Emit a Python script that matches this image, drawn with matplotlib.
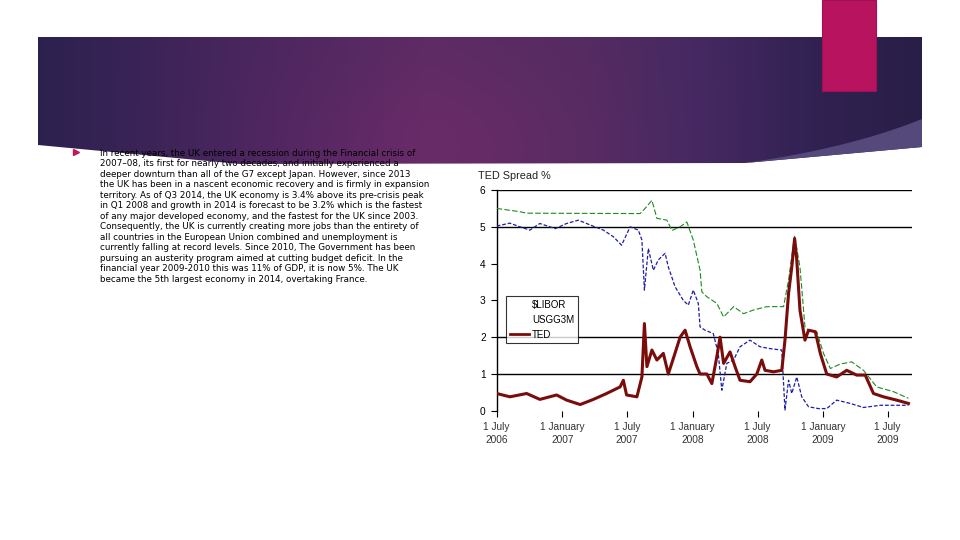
import numpy as np
import pandas as pd
import matplotlib
matplotlib.use("Agg")
import matplotlib.pyplot as plt
from matplotlib.patches import Polygon, Rectangle
from matplotlib.lines import Line2D

# TED spread data (percent)
ted_dates = ["2006-07-01", "2006-08-07", "2006-09-23", "2006-10-30", "2006-12-16",
             "2007-01-13", "2007-02-20", "2007-03-29", "2007-05-05", "2007-06-12",
             "2007-06-21", "2007-06-30", "2007-07-29", "2007-08-12", "2007-08-19",
             "2007-08-26", "2007-09-09", "2007-09-23", "2007-10-11", "2007-10-25",
             "2007-11-08", "2007-11-27", "2007-12-11", "2007-12-25", "2008-01-13",
             "2008-01-22", "2008-02-10", "2008-02-24", "2008-03-09", "2008-03-18",
             "2008-03-28", "2008-04-15", "2008-04-29", "2008-05-13", "2008-06-10",
             "2008-06-29", "2008-07-13", "2008-07-22", "2008-08-15", "2008-09-07",
             "2008-09-16", "2008-09-26", "2008-10-05", "2008-10-13", "2008-10-19",
             "2008-10-28", "2008-11-11", "2008-11-21", "2008-12-10", "2008-12-24",
             "2009-01-11", "2009-02-08", "2009-03-08", "2009-04-05", "2009-04-29",
             "2009-05-22", "2009-06-19", "2009-07-26", "2009-08-28"]
ted_values = [0.47, 0.38, 0.47, 0.31, 0.43,
              0.29, 0.17, 0.31, 0.47, 0.65,
              0.83, 0.43, 0.38, 0.92, 2.37,
              1.20, 1.65, 1.38, 1.56, 1.00,
              1.42, 2.00, 2.19, 1.74, 1.20,
              1.00, 1.00, 0.74, 1.47, 2.00,
              1.29, 1.60, 1.20, 0.83, 0.79,
              1.00, 1.38, 1.10, 1.06, 1.10,
              1.92, 3.19, 3.90, 4.68, 4.10,
              2.73, 1.92, 2.19, 2.15, 1.56,
              1.00, 0.92, 1.10, 0.97, 0.97,
              0.47, 0.38, 0.29, 0.20]

libor_dates = ["2006-07-01", "2006-09-04", "2006-09-23", "2007-08-07", "2007-08-21",
               "2007-09-09", "2007-09-23", "2007-10-21", "2007-11-04", "2007-11-27",
               "2007-12-16", "2008-01-03", "2008-01-22", "2008-01-27", "2008-02-10",
               "2008-03-09", "2008-03-28", "2008-04-25", "2008-05-23", "2008-06-20",
               "2008-07-27", "2008-09-12", "2008-09-26", "2008-10-13", "2008-10-28",
               "2008-11-11", "2008-11-21", "2008-12-14", "2009-01-02", "2009-01-21",
               "2009-02-18", "2009-03-22", "2009-04-24", "2009-05-31", "2009-07-17",
               "2009-08-28"]
libor_values = [5.50, 5.41, 5.37, 5.36, 5.50,
                5.72, 5.23, 5.18, 4.90, 5.00,
                5.13, 4.64, 3.82, 3.23, 3.10,
                2.92, 2.55, 2.83, 2.64, 2.74,
                2.83, 2.83, 3.55, 4.77, 3.90,
                2.28, 2.19, 2.15, 1.56, 1.15,
                1.27, 1.33, 1.10, 0.65, 0.52,
                0.34]

usgg_dates = ["2006-07-01", "2006-08-07", "2006-09-04", "2006-10-02", "2006-10-30",
              "2006-12-12", "2007-01-13", "2007-02-15", "2007-03-20", "2007-04-26",
              "2007-05-24", "2007-06-16", "2007-07-10", "2007-08-02", "2007-08-12",
              "2007-08-19", "2007-08-30", "2007-09-13", "2007-09-27", "2007-10-16",
              "2007-10-25", "2007-11-13", "2007-12-06", "2007-12-20", "2008-01-03",
              "2008-01-17", "2008-01-22", "2008-02-05", "2008-02-28", "2008-03-13",
              "2008-03-23", "2008-04-06", "2008-04-25", "2008-05-13", "2008-06-10",
              "2008-07-08", "2008-08-05", "2008-09-07", "2008-09-16", "2008-09-26",
              "2008-10-05", "2008-10-19", "2008-11-02", "2008-11-21", "2008-12-19",
              "2009-01-11", "2009-02-08", "2009-03-18", "2009-04-24", "2009-06-10",
              "2009-08-28"]
usgg_values = [5.02, 5.10, 5.00, 4.91, 5.09,
               4.95, 5.09, 5.18, 5.05, 4.91,
               4.73, 4.50, 5.00, 4.91, 4.64,
               3.28, 4.41, 3.82, 4.10, 4.28,
               3.91, 3.37, 3.00, 2.87, 3.28,
               2.92, 2.28, 2.19, 2.10, 1.56,
               0.56, 1.29, 1.38, 1.74, 1.92,
               1.74, 1.69, 1.65, 0.02, 0.83,
               0.47, 0.92, 0.38, 0.11, 0.06,
               0.06, 0.29, 0.20, 0.09, 0.15,
               0.15]

tick_dates = ["2006-07-01", "2007-01-01", "2007-07-01", "2008-01-01",
              "2008-07-01", "2009-01-01", "2009-07-01"]
tick_labels = ["1 July\n2006", "1 January\n2007", "1 July\n2007", "1 January\n2008",
               "1 July\n2008", "1 January\n2009", "1 July\n2009"]
y_ticks = [0, 1, 2, 3, 4, 5, 6]
grid_levels = [1, 2, 5, 6]

body_lines = [
    "In recent years, the UK entered a recession during the Financial crisis of",
    "2007\u201308, its first for nearly two decades, and initially experienced a",
    "deeper downturn than all of the G7 except Japan. However, since 2013",
    "the UK has been in a nascent economic recovery and is firmly in expansion",
    "territory. As of Q3 2014, the UK economy is 3.4% above its pre-crisis peak",
    "in Q1 2008 and growth in 2014 is forecast to be 3.2% which is the fastest",
    "of any major developed economy, and the fastest for the UK since 2003.",
    "Consequently, the UK is currently creating more jobs than the entirety of",
    "all countries in the European Union combined and unemployment is",
    "currently falling at record levels. Since 2010, The Government has been",
    "pursuing an austerity program aimed at cutting budget deficit. In the",
    "financial year 2009-2010 this was 11% of GDP, it is now 5%. The UK",
    "became the 5th largest economy in 2014, overtaking France.",
]

fig = plt.figure(figsize=(9.6, 5.4), dpi=100)

# slide background in pixel coordinates
bg = fig.add_axes([0, 0, 1, 1])
bg.set_xlim(0, 960)
bg.set_ylim(540, 0)
bg.axis("off")

# purple banner with a horizontal + radial gradient
bx0, bx1, by0, by1 = 38, 922, 37, 165
xs = np.linspace(bx0, bx1, 400)
ys = np.linspace(by0, by1, 80)
X, Y = np.meshgrid(xs, ys)
stops = [38, 250, 430, 580, 700, 820, 922]
reds = [0.17, 0.29, 0.36, 0.33, 0.27, 0.19, 0.16]
greens = [0.13, 0.15, 0.17, 0.17, 0.16, 0.13, 0.12]
blues = [0.31, 0.37, 0.39, 0.38, 0.38, 0.32, 0.28]
glow = np.exp(-(((X - 440) / 170) ** 2 + ((Y - 150) / 90) ** 2)) * 0.05
img = np.dstack([np.interp(X, stops, reds) + glow,
                 np.interp(X, stops, greens),
                 np.interp(X, stops, blues) + glow * 0.4])
banner = Polygon([(38, 37), (922, 37), (922, 147), (745, 163), (240, 164),
                  (165, 157), (38, 145)], closed=True, facecolor="none",
                 edgecolor="none")
bg.add_patch(banner)
im = bg.imshow(np.clip(img, 0, 1), extent=(bx0, bx1, by1, by0), aspect="auto",
               interpolation="bilinear", zorder=1)
im.set_clip_path(banner)

# lighter swoosh at the bottom right of the banner
t = np.linspace(0, 1, 40)
cx = (1 - t) ** 2 * 745 + 2 * (1 - t) * t * 850 + t ** 2 * 922
cy = (1 - t) ** 2 * 163 + 2 * (1 - t) * t * 148 + t ** 2 * 119
swoosh_pts = list(zip(cx, cy)) + [(922, 147), (745, 163)]
bg.add_patch(Polygon(swoosh_pts, closed=True, facecolor="#54497a",
                     edgecolor="none", zorder=2))

# pink accent
bg.add_patch(Rectangle((822, 0), 54, 91, facecolor="#b8135f",
                       edgecolor="#a01055", lw=0.8, zorder=3))

# bullet + body text
bg.plot([76], [152], marker=">", color="#c2185b", markersize=4, zorder=3)
for i, line in enumerate(body_lines):
    bg.text(100, 153.3 + i * 10.5, line, fontsize=6.3, color="black",
            family=["Liberation Sans Narrow", "DejaVu Sans"],
            va="center", ha="left", zorder=4)

# chart area
bg.add_patch(Rectangle((462, 164), 458, 290, facecolor="white",
                       edgecolor="none", zorder=2))
ax = fig.add_axes([496.7 / 960, 1 - 410.8 / 540,
                   (912 - 496.7) / 960, (410.8 - 190) / 540])
ax.patch.set_alpha(0)

ax.plot(pd.to_datetime(libor_dates), libor_values, color="#1f8a1f", lw=0.8,
        ls=(0, (5, 2)), label="$LIBOR", zorder=3)
ax.plot(pd.to_datetime(usgg_dates), usgg_values, color="#1c1ca8", lw=0.9,
        ls=(0, (3, 1.5)), label="USGG3M", zorder=3)
ax.plot(pd.to_datetime(ted_dates), ted_values, color="#7a0c0c", lw=2.2,
        label="TED", zorder=4)

for lvl in grid_levels:
    ax.axhline(lvl, color="black", lw=1.0, zorder=1)

ax.set_xlim(pd.Timestamp("2006-07-01"), pd.Timestamp("2009-09-07"))
ax.set_ylim(0, 6)
ax.set_yticks(y_ticks)
ax.set_xticks(pd.to_datetime(tick_dates))
ax.set_xticklabels(tick_labels, fontsize=7.3, color="#333333",
                   family="Liberation Sans", linespacing=1.4)
ax.tick_params(axis="x", length=4, width=0.8, pad=4)
ax.tick_params(axis="y", length=4, width=0.8, pad=4, labelsize=7.3,
               labelcolor="black")
for lab in ax.get_yticklabels():
    lab.set_family("Liberation Sans")
for side in ["top", "right", "bottom"]:
    ax.spines[side].set_visible(False)
ax.spines["left"].set_linewidth(1.0)

ax.text(-0.044, 1.04, "TED Spread %", transform=ax.transAxes, fontsize=7.8,
        family="Liberation Sans", color="#222222", ha="left", va="bottom")

handles = [Line2D([], [], color="none"), Line2D([], [], color="none"),
           Line2D([], [], color="#7a0c0c", lw=2.0)]
leg = ax.legend(handles, ["\\$LIBOR", "USGG3M", "TED"], loc="upper left",
                bbox_to_anchor=(0.022, 0.52), borderaxespad=0,
                prop={"family": "Liberation Sans", "size": 7},
                frameon=True, fancybox=False, handlelength=2.0,
                handletextpad=0.3, labelspacing=0.5, borderpad=0.4)
leg.get_frame().set_edgecolor("black")
leg.get_frame().set_linewidth(0.8)

fig.savefig("out.png", dpi=100)
